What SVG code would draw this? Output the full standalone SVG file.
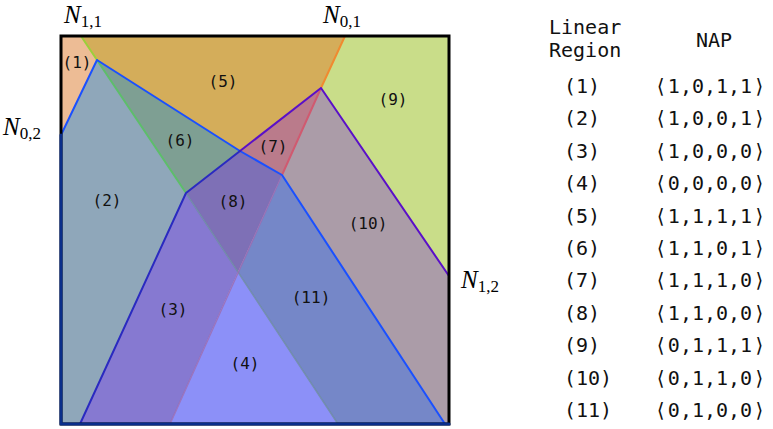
<svg xmlns="http://www.w3.org/2000/svg" width="773" height="429" viewBox="0 0 773 429">
<style>
.lbl{font-family:"DejaVu Sans Mono","Liberation Mono",monospace;font-size:16px;fill:#111;text-anchor:middle}
.tbl{font-family:"DejaVu Sans Mono","Liberation Mono",monospace;font-size:20px;fill:#111}
.nap{text-anchor:middle}
.nn{font-family:"Liberation Serif","DejaVu Serif",serif;font-size:25px;font-style:italic;fill:#000}
.ns{font-family:"Liberation Serif","DejaVu Serif",serif;font-size:17px;font-style:normal;fill:#000}
.ln{fill:none;stroke-linejoin:round;stroke-linecap:round}
</style>
<g id="regions" stroke="none">
<g id="r1"><polygon points="61,36 81,36 97,60 61,135" fill="#EDBC95"/></g>
<g id="r5"><polygon points="81,36 345,36 321,88 240,151 97,60" fill="#D4AD5A"/></g>
<g id="r9"><polygon points="345,36 449,36 449,276 321,88" fill="#C9DD89"/></g>
<g id="r2"><polygon points="61,135 97,60 186,193 80,424 61,424" fill="#8FA7BA"/></g>
<g id="r6"><polygon points="97,60 240,151 186,193" fill="#7E9F93"/></g>
<g id="r7"><polygon points="240,151 321,88 282,175" fill="#BA7B8B"/></g>
<g id="r8"><polygon points="186,193 240,151 282,175 238,272" fill="#7E70B6"/></g>
<g id="r3"><polygon points="186,193 238,272 170,424 80,424" fill="#8679D1"/></g>
<g id="r4"><polygon points="238,272 338,424 170,424" fill="#8C90F8"/></g>
<g id="r11"><polygon points="238,272 282,175 445,424 338,424" fill="#7587C8"/></g>
<g id="r10"><polygon points="321,88 449,276 449,424 445,424 282,175" fill="#AB9CA8"/></g>
</g>
<g id="connectors">
<path class="ln" d="M81,36 L97,60" stroke="#9BD03A" stroke-width="2"/>
<path class="ln" d="M97,60 L186,193" stroke="#5DBE6A" stroke-width="2"/>
<path class="ln" d="M186,193 L338,424" stroke="#6A8AA0" stroke-width="1.5" opacity="0.8"/>
<path class="ln" d="M345,36 L321,88" stroke="#F08A30" stroke-width="2"/>
<path class="ln" d="M321,88 L282,175" stroke="#D05A70" stroke-width="2"/>
<path class="ln" d="M282,175 L170,424" stroke="#9A6AB0" stroke-width="1.5" opacity="0.8"/>
<path class="ln" d="M61,135 L97,60 L240,151 L282,175 L445,424" stroke="#1A50FF" stroke-width="2"/>
<path class="ln" d="M449,276 L321,88 L240,151" stroke="#5A10C8" stroke-width="2"/>
<path class="ln" d="M240,151 L186,193 L80,424" stroke="#2A2AC0" stroke-width="2"/>
<rect x="61" y="36" width="388" height="388" fill="none" stroke="#000" stroke-width="3"/>
<path class="ln" d="M61,135 L61,424 L449,424" stroke="#0A2E8A" stroke-width="3"/>
</g>
<g id="region-labels">
<text class="lbl" x="77" y="68">(1)</text>
<text class="lbl" x="223" y="87">(5)</text>
<text class="lbl" x="180" y="146">(6)</text>
<text class="lbl" x="393" y="105">(9)</text>
<text class="lbl" x="273" y="152">(7)</text>
<text class="lbl" x="107" y="206">(2)</text>
<text class="lbl" x="233" y="207">(8)</text>
<text class="lbl" x="368" y="229">(10)</text>
<text class="lbl" x="311" y="303">(11)</text>
<text class="lbl" x="173" y="315">(3)</text>
<text class="lbl" x="245" y="369">(4)</text>
</g>
<g id="neuron-labels">
<text x="64" y="23"><tspan class="nn">N</tspan><tspan class="ns" dy="4">1,1</tspan></text>
<text x="323" y="23"><tspan class="nn">N</tspan><tspan class="ns" dy="4">0,1</tspan></text>
<text x="3" y="135"><tspan class="nn">N</tspan><tspan class="ns" dy="4">0,2</tspan></text>
<text x="461" y="288"><tspan class="nn">N</tspan><tspan class="ns" dy="4">1,2</tspan></text>
</g>
<g id="table">
<text class="tbl" x="549" y="34">Linear</text>
<text class="tbl" x="549" y="57">Region</text>
<text class="tbl nap" x="714" y="47">NAP</text>
<text class="tbl" x="564" y="93">(1)</text><text class="tbl nap" x="710" y="93">⟨<tspan dx="1">1,0,1,1</tspan><tspan dx="1">⟩</tspan></text>
<text class="tbl" x="564" y="125.4">(2)</text><text class="tbl nap" x="710" y="125.4">⟨<tspan dx="1">1,0,0,1</tspan><tspan dx="1">⟩</tspan></text>
<text class="tbl" x="564" y="157.8">(3)</text><text class="tbl nap" x="710" y="157.8">⟨<tspan dx="1">1,0,0,0</tspan><tspan dx="1">⟩</tspan></text>
<text class="tbl" x="564" y="190.2">(4)</text><text class="tbl nap" x="710" y="190.2">⟨<tspan dx="1">0,0,0,0</tspan><tspan dx="1">⟩</tspan></text>
<text class="tbl" x="564" y="222.6">(5)</text><text class="tbl nap" x="710" y="222.6">⟨<tspan dx="1">1,1,1,1</tspan><tspan dx="1">⟩</tspan></text>
<text class="tbl" x="564" y="255">(6)</text><text class="tbl nap" x="710" y="255">⟨<tspan dx="1">1,1,0,1</tspan><tspan dx="1">⟩</tspan></text>
<text class="tbl" x="564" y="287.4">(7)</text><text class="tbl nap" x="710" y="287.4">⟨<tspan dx="1">1,1,1,0</tspan><tspan dx="1">⟩</tspan></text>
<text class="tbl" x="564" y="319.8">(8)</text><text class="tbl nap" x="710" y="319.8">⟨<tspan dx="1">1,1,0,0</tspan><tspan dx="1">⟩</tspan></text>
<text class="tbl" x="564" y="352.2">(9)</text><text class="tbl nap" x="710" y="352.2">⟨<tspan dx="1">0,1,1,1</tspan><tspan dx="1">⟩</tspan></text>
<text class="tbl" x="564" y="384.6">(10)</text><text class="tbl nap" x="710" y="384.6">⟨<tspan dx="1">0,1,1,0</tspan><tspan dx="1">⟩</tspan></text>
<text class="tbl" x="564" y="417">(11)</text><text class="tbl nap" x="710" y="417">⟨<tspan dx="1">0,1,0,0</tspan><tspan dx="1">⟩</tspan></text>
</g>
</svg>
